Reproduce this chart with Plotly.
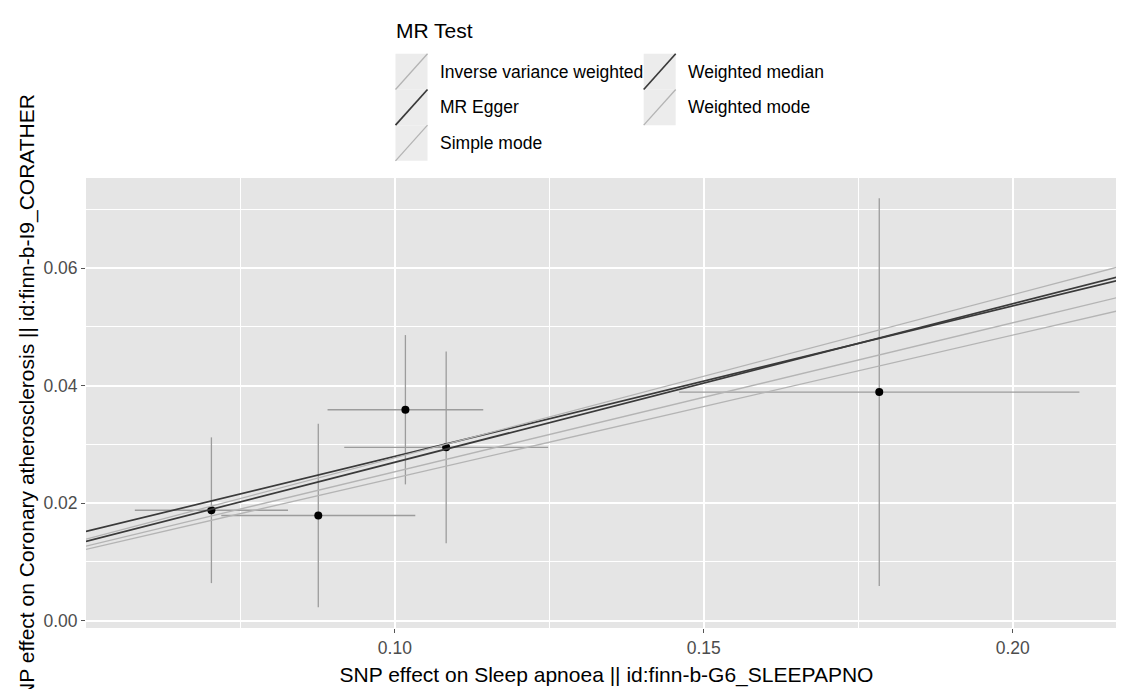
import plotly.graph_objects as go

# ---- data ----
snp_exposure_beta = [0.0703, 0.0876, 0.1017, 0.1083, 0.1784]
snp_exposure_se = [0.0124, 0.0157, 0.0126, 0.0165, 0.0324]
snp_outcome_beta = [0.0188, 0.0179, 0.0359, 0.0295, 0.0389]
snp_outcome_se = [0.0124, 0.0156, 0.0127, 0.0163, 0.0330]

methods = ["Inverse variance weighted", "MR Egger", "Simple mode",
           "Weighted median", "Weighted mode"]
method_intercept = [0.0, 0.0024, 0.0, 0.0, 0.0]
method_slope = [0.2535, 0.2558, 0.2430, 0.2696, 0.2773]
method_colour = ["#b4b4b4", "#3a3a3a", "#b4b4b4", "#3a3a3a", "#b4b4b4"]
method_width = [1.3, 1.7, 1.3, 1.7, 1.3]

x_ticks = [0.10, 0.15, 0.20]
x_minor = [0.075, 0.125, 0.175]
y_ticks = [0.00, 0.02, 0.04, 0.06]
y_minor = [0.01, 0.03, 0.05, 0.07]
x_range = [0.0500, 0.2185]
y_range = [-0.00124, 0.07533]

x_title = "SNP effect on Sleep apnoea || id:finn-b-G6_SLEEPAPNO"
y_title = "SNP effect on Coronary atherosclerosis || id:finn-b-I9_CORATHER"
legend_title = "MR Test"

# ---- figure geometry ----
W, H = 1124, 689
ML, MR, MT, MB = 78, 5, 170, 69
PW, PH = W - ML - MR, H - MT - MB
FONT = "Liberation Sans, Arial, sans-serif"


def px(x):
    return (x - ML) / PW


def py(y):
    return (H - MB - y) / PH


fig = go.Figure()

fig.add_trace(go.Scatter(
    x=snp_exposure_beta, y=snp_outcome_beta, mode="markers",
    marker=dict(color="black", size=8),
    error_x=dict(type="data", array=snp_exposure_se, width=0,
                 thickness=1.3, color="#9c9c9c"),
    error_y=dict(type="data", array=snp_outcome_se, width=0,
                 thickness=1.3, color="#9c9c9c"),
    showlegend=False, hoverinfo="skip"))

for name, a, b, col, lw in zip(methods, method_intercept, method_slope,
                               method_colour, method_width):
    fig.add_trace(go.Scatter(
        x=x_range, y=[a + b * x for x in x_range], mode="lines",
        line=dict(color=col, width=lw), name=name, showlegend=False))

# ---- hand-built ggplot-style legend (two columns, abline keys) ----
shapes = []
annotations = []
annotations.append(dict(text=legend_title, x=px(386), y=py(22), xref="paper",
                        yref="paper", xanchor="left", yanchor="middle",
                        showarrow=False, font=dict(family=FONT, size=21,
                                                   color="black")))
key_w, key_h = 32, 35.7
col_x = [387.5, 635.7]
text_x = [430, 678]
row_y = [63.6, 99.3, 135.0]
slots = [(0, 0), (0, 1), (0, 2), (1, 0), (1, 1)]
for (c, r), name, col, lw in zip(slots, methods, method_colour, method_width):
    x0, x1 = col_x[c], col_x[c] + key_w
    y0, y1 = row_y[r] - key_h / 2, row_y[r] + key_h / 2
    shapes.append(dict(type="rect", xref="paper", yref="paper",
                       x0=px(x0), x1=px(x1), y0=py(y1), y1=py(y0),
                       line=dict(width=0), fillcolor="#ececec", layer="below"))
    shapes.append(dict(type="line", xref="paper", yref="paper",
                       x0=px(x0), x1=px(x1), y0=py(y1), y1=py(y0),
                       line=dict(color=col, width=lw)))
    annotations.append(dict(text=name, x=px(text_x[c]), y=py(row_y[r]),
                            xref="paper", yref="paper", xanchor="left",
                            yanchor="middle", showarrow=False,
                            font=dict(family=FONT, size=17.5, color="black")))

fig.update_layout(
    width=W, height=H,
    margin=dict(l=ML, r=MR, t=MT, b=MB, pad=0),
    paper_bgcolor="white", plot_bgcolor="#e5e5e5",
    font=dict(family=FONT, color="black"),
    shapes=shapes, annotations=annotations,
    showlegend=False,
)
axis_common = dict(showline=False, zeroline=False, showgrid=True,
                   gridcolor="white", gridwidth=1.6, ticks="outside",
                   ticklen=4, tickwidth=1.2, tickcolor="#555555",
                   tickfont=dict(family=FONT, size=17.5, color="#4d4d4d"),
                   tickformat=".2f", automargin=False)
fig.update_xaxes(range=x_range, tickvals=x_ticks,
                 minor=dict(tickvals=x_minor, showgrid=True, gridcolor="white",
                            gridwidth=0.8, ticklen=0),
                 title=dict(text=x_title, standoff=10,
                            font=dict(family=FONT, size=21, color="black")),
                 **axis_common)
fig.update_yaxes(range=y_range, tickvals=y_ticks,
                 minor=dict(tickvals=y_minor, showgrid=True, gridcolor="white",
                            gridwidth=0.8, ticklen=0),
                 title=dict(text=y_title, standoff=3,
                            font=dict(family=FONT, size=21, color="black")),
                 **axis_common)

fig.write_html("out.html")
